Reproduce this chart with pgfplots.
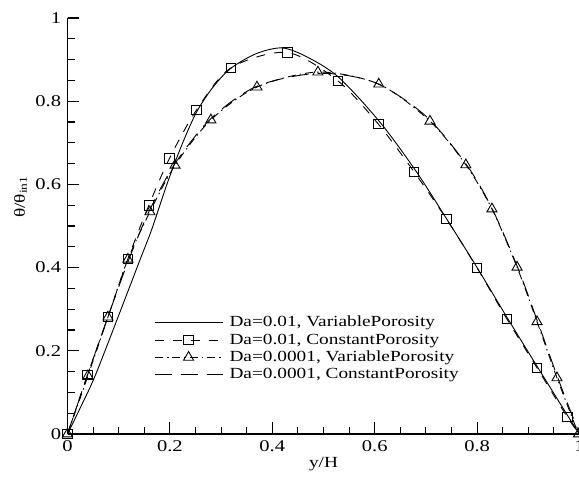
\documentclass[border=0pt]{standalone}
\usepackage{pgfplots}
\pgfplotsset{compat=1.18}
\usepackage{fontspec}
\setmainfont{Liberation Serif}[FakeStretch=1.25]
\begin{document}
\fontsize{15.5}{18}\selectfont
\begin{tikzpicture}
\begin{axis}[
  scale only axis, width=512bp, height=416bp,
  xmin=0, xmax=1, ymin=0, ymax=1,
  axis lines*=left,
  axis line style={line width=1.2bp},
  tick style={line width=1.1bp, black},
  tick align=inside,
  major tick length=12bp, minor tick length=7.5bp,
  xtick={0,0.2,0.4,0.6,0.8,1}, ytick={0,0.2,0.4,0.6,0.8,1},
  minor x tick num=3, minor y tick num=3,
  /pgf/number format/assume math mode=true,
  ticklabel style={font=\fontsize{16.5}{19}\selectfont},
  xticklabel style={yshift=-1bp},
  yticklabel style={xshift=-1bp},
  xlabel={y/H},
  xlabel style={yshift=5bp},
  ylabel={θ/θ\textsubscript{in1}},
  ylabel style={at={(ticklabel cs:0.57)}, yshift=-2bp},
  legend style={at={(axis cs:0.163,0.292)}, anchor=north west, draw=none, fill=none,
    row sep=1.5bp, column sep=5bp, nodes={inner sep=1.5bp}},
  legend cell align=left,
  legend image code/.code={\draw[#1, mark indices={2}] plot coordinates {(0bp,0bp)(34bp,0bp)(68bp,0bp)};},
]
\addplot[black, line width=0.9bp, smooth, tension=0.5] coordinates {
(0,0)(0.027,0.068)(0.054,0.14)(0.099,0.282)(0.142,0.42)(0.164,0.49)(0.197,0.61)(0.225,0.70)(0.253,0.776)(0.285,0.835)(0.32,0.88)(0.37,0.915)(0.42,0.928)(0.47,0.905)(0.53,0.857)(0.61,0.75)(0.68,0.633)(0.74,0.518)(0.8,0.4)(0.86,0.277)(0.92,0.157)(0.98,0.038)(1,0)};
\addlegendentry{Da=0.01, VariablePorosity}
\addplot[black, line width=0.9bp, dash pattern=on 9bp off 9bp, smooth, tension=0.5,
  mark=square, mark size=4.8bp, mark options={solid, line width=0.9bp}, mark indices={1,...,17}] coordinates {
(0,0)(0.039,0.142)(0.079,0.281)(0.118,0.421)(0.159,0.55)(0.199,0.662)(0.252,0.779)(0.319,0.88)(0.429,0.917)(0.528,0.849)(0.607,0.745)(0.677,0.63)(0.74,0.517)(0.8,0.399)(0.858,0.277)(0.917,0.159)(0.976,0.041)(1,0)};
\addlegendentry{Da=0.01, ConstantPorosity}
\addplot[black, line width=0.9bp, dash pattern=on 8bp off 4bp on 1.5bp off 4bp, smooth, tension=0.5,
  mark=triangle, mark size=5.8bp, mark options={solid, line width=0.9bp}] coordinates {
(0,0)(0.04,0.14)(0.079,0.281)(0.118,0.42)(0.161,0.534)(0.21,0.646)(0.28,0.755)(0.37,0.834)(0.489,0.87)(0.608,0.841)(0.708,0.752)(0.778,0.647)(0.829,0.541)(0.878,0.401)(0.917,0.27)(0.956,0.135)(0.998,0)};
\addlegendentry{Da=0.0001, VariablePorosity}
\addplot[black, line width=0.9bp, dash pattern=on 17bp off 9bp, smooth, tension=0.5] coordinates {
(0,0)(0.04,0.145)(0.08,0.285)(0.12,0.42)(0.16,0.537)(0.21,0.65)(0.28,0.758)(0.37,0.836)(0.49,0.867)(0.6,0.845)(0.7,0.764)(0.78,0.646)(0.83,0.54)(0.88,0.398)(0.92,0.264)(0.96,0.127)(1,0)};
\addlegendentry{Da=0.0001, ConstantPorosity}
\end{axis}
\pgfresetboundingbox
\path[use as bounding box] (-67.5bp,-46bp) rectangle (511.5bp,434bp);
\end{tikzpicture}
\end{document}
